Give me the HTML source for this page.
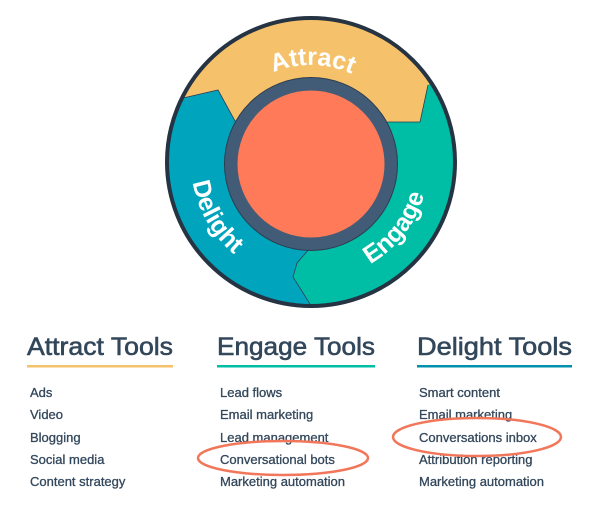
<!DOCTYPE html>
<html><head><meta charset="utf-8"><style>
html,body{margin:0;padding:0;background:#fff;}
svg{display:block;}
</style></head><body>
<svg width="600" height="506" viewBox="0 0 600 506" xmlns="http://www.w3.org/2000/svg" font-family="Liberation Sans, sans-serif">
<defs>
<clipPath id="c"><circle cx="311" cy="162" r="144"/></clipPath>
<path id="pa" d="M 219.8 128.8 A 97 97 0 0 1 403.2 132.0"/>
<path id="pd" d="M 192.8 141.1 A 120 120 0 0 0 270 274.8"/>
<path id="pe" d="M 345.5 274.8 A 118 118 0 0 0 428.8 168.2"/>
</defs>
<g clip-path="url(#c)">
<rect x="150" y="0" width="320" height="320" fill="#00bda5"/>
<polygon points="140,100 183,98 218,90 240,130 311,164 387,122 420,122 428,85 470,60 470,0 140,0" fill="#f5c26b"/>
<polygon points="140,100 183,98 218,90 240,130 311,164 310,248 297,263 293,277 320,320 140,320" fill="#00a4bd"/>
<polyline points="183,98 218,90 240,130" fill="none" stroke="#2d3e50" stroke-width="0.8"/>
<polyline points="428,85 420,122 387,122" fill="none" stroke="#2d3e50" stroke-width="0.8"/>
<polyline points="310,248 297,263 293,277 320,320" fill="none" stroke="#2d3e50" stroke-width="0.8"/>
</g>
<circle cx="311" cy="162" r="144" fill="none" stroke="#253342" stroke-width="4"/>
<circle cx="311" cy="164" r="80" fill="#ff7a59" stroke="#425b76" stroke-width="13"/>
<circle cx="311" cy="164" r="86.5" fill="none" stroke="#2d3e50" stroke-width="1"/>
<text font-size="25" font-weight="bold" fill="#fff"><textPath href="#pa" startOffset="50%" text-anchor="middle">Attract</textPath></text>
<text font-size="25" font-weight="bold" fill="#fff"><textPath href="#pd" startOffset="50%" text-anchor="middle">Delight</textPath></text>
<text font-size="25" font-weight="bold" fill="#fff"><textPath href="#pe" startOffset="50%" text-anchor="middle">Engage</textPath></text>

<g fill="#33475b" stroke="#33475b" stroke-width="0.6" font-size="25">
<text x="27" y="355" textLength="146" lengthAdjust="spacingAndGlyphs">Attract Tools</text>
<text x="217" y="355" textLength="158" lengthAdjust="spacingAndGlyphs">Engage Tools</text>
<text x="417" y="355" textLength="155" lengthAdjust="spacingAndGlyphs">Delight Tools</text>
</g>
<rect x="27" y="365" width="146" height="2.5" fill="#f5c26b"/>
<rect x="217" y="365" width="158" height="2.5" fill="#00bda5"/>
<rect x="417" y="365" width="155" height="2.5" fill="#0091ae"/>
<g fill="#33475b" stroke="#33475b" stroke-width="0.3" font-size="13">
<text x="30" y="397">Ads</text>
<text x="30" y="419">Video</text>
<text x="30" y="442">Blogging</text>
<text x="30" y="464">Social media</text>
<text x="30" y="486">Content strategy</text>
<text x="220" y="397">Lead flows</text>
<text x="220" y="419">Email marketing</text>
<text x="220" y="442">Lead management</text>
<text x="220" y="464">Conversational bots</text>
<text x="220" y="486">Marketing automation</text>
<text x="419" y="397">Smart content</text>
<text x="419" y="419">Email marketing</text>
<text x="419" y="442">Conversations inbox</text>
<text x="419" y="464">Attribution reporting</text>
<text x="419" y="486">Marketing automation</text>
</g>
<ellipse cx="283" cy="458" rx="85" ry="17" fill="none" stroke="#f2775a" stroke-width="2.5"/>
<ellipse cx="477" cy="437" rx="84" ry="19" fill="none" stroke="#f2775a" stroke-width="2.5"/>
</svg>
</body></html>
